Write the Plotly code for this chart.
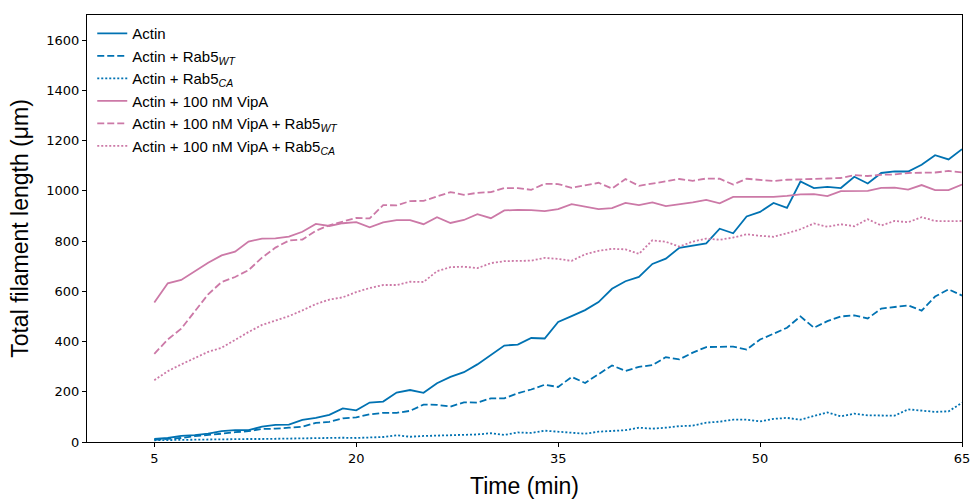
import plotly.graph_objects as go

time_min = list(range(5, 66))

actin = [12, 16, 24, 27, 33, 43, 47, 47, 61, 68, 69, 88, 96, 108, 134, 126, 157, 161, 197, 207,
         196, 234, 259, 278, 309, 346, 384, 388, 414, 412, 478, 501, 525, 557, 610, 640, 657, 709, 730, 773,
         783, 791, 849, 831, 898, 916, 952, 932, 1037, 1011, 1016, 1011, 1056, 1029, 1071, 1077, 1077, 1104, 1142, 1125,
         1166]

actin_rab5wt = [9, 12, 16, 23, 27, 33, 39, 43, 52, 53, 57, 61, 76, 80, 94, 98, 110, 116, 116, 124,
                149, 148, 141, 158, 157, 174, 174, 194, 209, 228, 219, 259, 235, 269, 305, 283, 299, 306, 338, 329,
                356, 378, 380, 380, 368, 408, 431, 455, 500, 455, 481, 500, 504, 492, 531, 536, 544, 523, 579, 608,
                583]

actin_rab5ca = [7, 8, 9, 10, 10, 11, 11, 12, 12, 13, 14, 16, 16, 17, 17, 16, 18, 20, 27, 21,
                24, 26, 27, 28, 30, 35, 28, 38, 36, 45, 40, 35, 33, 41, 44, 47, 57, 53, 57, 63,
                65, 77, 81, 89, 89, 82, 92, 96, 89, 102, 118, 102, 113, 106, 105, 105, 130, 125, 120, 122,
                156]

vipa = [555, 632, 645, 681, 714, 743, 758, 798, 810, 811, 818, 837, 868, 860, 871, 875, 855, 874, 883, 883,
        867, 895, 872, 884, 907, 891, 922, 924, 923, 919, 927, 947, 938, 927, 931, 952, 943, 954, 939, 946,
        954, 964, 950, 976, 976, 979, 976, 980, 986, 987, 979, 999, 1000, 1000, 1012, 1013, 1005, 1023, 1003, 1003,
        1025]

vipa_rab5wt = [351, 408, 451, 521, 588, 637, 657, 684, 734, 774, 802, 806, 841, 863, 878, 892, 890, 943, 942, 959,
               960, 976, 995, 984, 992, 995, 1011, 1011, 1004, 1028, 1027, 1012, 1021, 1032, 1009, 1047, 1020, 1029, 1036, 1047,
               1040, 1049, 1048, 1025, 1048, 1043, 1039, 1044, 1045, 1049, 1049, 1051, 1063, 1059, 1064, 1065, 1071, 1072, 1073, 1079,
               1073]

vipa_rab5ca = [246, 282, 309, 335, 359, 375, 408, 438, 466, 484, 501, 524, 549, 567, 576, 597, 613, 625, 625, 638,
               637, 680, 696, 698, 692, 712, 720, 721, 722, 733, 729, 721, 747, 761, 769, 767, 749, 803, 797, 778,
               798, 810, 805, 814, 827, 821, 817, 831, 847, 870, 857, 867, 859, 887, 862, 880, 875, 895, 880, 879,
               880]

x_ticks = [5, 20, 35, 50, 65]
y_ticks = [0, 200, 400, 600, 800, 1000, 1200, 1400, 1600]

BLUE = "#0072B2"
PINK = "#CC79A7"

series = [
    ("Actin", actin, BLUE, "solid"),
    ("Actin + Rab5<sub><i>WT</i></sub>", actin_rab5wt, BLUE, "7px,3px"),
    ("Actin + Rab5<sub><i>CA</i></sub>", actin_rab5ca, BLUE, "2px,2px"),
    ("Actin + 100 nM VipA", vipa, PINK, "solid"),
    ("Actin + 100 nM VipA + Rab5<sub><i>WT</i></sub>", vipa_rab5wt, PINK, "7px,3px"),
    ("Actin + 100 nM VipA + Rab5<sub><i>CA</i></sub>", vipa_rab5ca, PINK, "2px,2px"),
]

fig = go.Figure()
for name, vals, color, dash in series:
    fig.add_trace(go.Scatter(
        x=time_min, y=vals, mode="lines", name=name,
        line=dict(color=color, width=1.8, dash=dash),
    ))

fig.update_layout(
    width=971, height=499,
    margin=dict(l=87, r=9, t=15, b=57),
    paper_bgcolor="white", plot_bgcolor="white",
    font=dict(family="DejaVu Sans", size=13, color="black"),
    legend=dict(
        x=0.006, y=0.995, xanchor="left", yanchor="top",
        bgcolor="rgba(255,255,255,0)", borderwidth=0,
        font=dict(family="Liberation Sans, Arial", size=15, color="black"),
        tracegroupgap=0, itemwidth=30,
    ),
    showlegend=True,
)

fig.update_xaxes(
    range=[0, 65], tickvals=x_ticks, ticktext=[str(t) for t in x_ticks],
    ticks="outside", ticklen=4, tickwidth=1, tickcolor="black",
    showline=True, linecolor="black", linewidth=1.2, mirror=True,
    showgrid=False, zeroline=False, automargin=False,
    tickfont=dict(family="DejaVu Sans", size=13),
    title=dict(text="Time (min)", font=dict(family="Liberation Sans, Arial", size=23), standoff=26),
)
fig.update_yaxes(
    range=[0, 1700], tickvals=y_ticks,
    ticks="outside", ticklen=4, tickwidth=1, tickcolor="black",
    showline=True, linecolor="black", linewidth=1.2, mirror=True,
    showgrid=False, zeroline=False, automargin=False,
    tickfont=dict(family="DejaVu Sans", size=13),
    title=dict(text="Total filament length (μm)", font=dict(family="Liberation Sans, Arial", size=23), standoff=11),
)

fig.write_html(
    "out.html",
    config={"displayModeBar": False},
    post_script="document.body.style.margin='0';document.documentElement.style.overflow='hidden';",
)
